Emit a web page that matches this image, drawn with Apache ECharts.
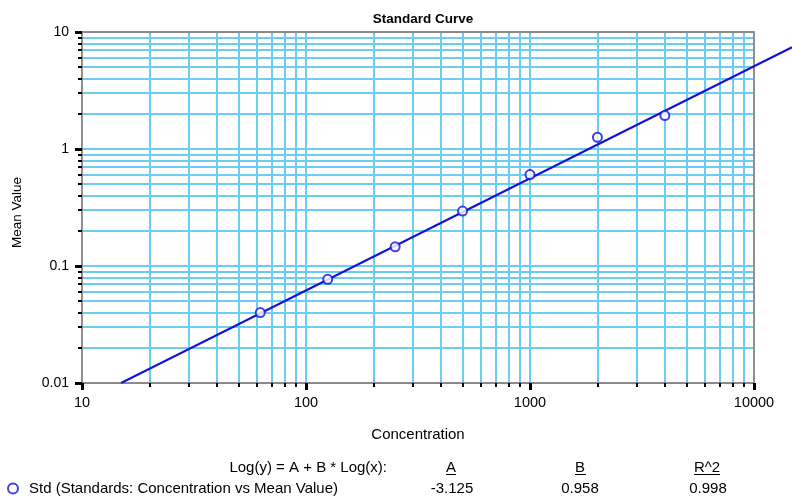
<!DOCTYPE html>
<html>
<head>
<meta charset="utf-8">
<script src="https://cdn.jsdelivr.net/npm/echarts@6/dist/echarts.min.js"></script>
<style>
  html, body { margin: 0; padding: 0; background: #fff; }
  #chart { width: 792px; height: 496px; }
</style>
</head>
<body>
<div id="chart"></div>
<script>
// Standards: concentration vs mean value
const concentration = [62.5, 125, 250, 500, 1000, 2000, 4000];
const meanValue = [0.040, 0.077, 0.146, 0.295, 0.605, 1.26, 1.93];

// Log-log fit: Log(y) = A + B * Log(x)
const fitA = -3.125;
const fitB = 0.958;
const fitR2 = 0.998;

// Axis ticks
const xMajorTicks = [10, 100, 1000, 10000];
const xTickLabels = ['10', '100', '1000', '10000'];
const xGridValues = [20, 30, 40, 50, 60, 70, 80, 90, 100,
  200, 300, 400, 500, 600, 700, 800, 900, 1000,
  2000, 3000, 4000, 5000, 6000, 7000, 8000, 9000];
const yMajorTicks = [0.01, 0.1, 1, 10];
const yTickLabels = ['0.01', '0.1', '1', '10'];
const yGridValues = [0.02, 0.03, 0.04, 0.05, 0.06, 0.07, 0.08, 0.09, 0.1,
  0.2, 0.3, 0.4, 0.5, 0.6, 0.7, 0.8, 0.9, 1,
  2, 3, 4, 5, 6, 7, 8, 9];

const FONT = 'Liberation Sans, Arial, sans-serif';
const GRID_COLOR = '#6ccdf2';
const FRAME_COLOR = '#8a8a8a';
const BLUE = '#1212d8';

// Plot box (pixels) and the x range covered when the fit line runs on to the right edge
const CHART_W = 792;
const PLOT = { left: 82, right: 38, top: 32, bottom: 113 };
const X_MIN = 10, X_MAX = 10000;
const plotW = CHART_W - PLOT.left - PLOT.right;
const decades = Math.log10(X_MAX / X_MIN);
const xFullMax = X_MIN * Math.pow(10, decades * (CHART_W - PLOT.left) / plotW);

// Fit line endpoints: from y = 0.01 out to the right edge of the chart
const yFloor = 0.01;
const xStart = Math.pow(10, (Math.log10(yFloor) - fitA) / fitB);
const fitLine = [xStart, xFullMax].map(x => [x, Math.pow(10, fitA + fitB * Math.log10(x))]);

const chart = echarts.init(document.getElementById('chart'), null, { renderer: 'canvas' });

const frameLine = { show: true, onZero: false, lineStyle: { color: FRAME_COLOR, width: 2, type: [1, 1] } };
const hiddenAxis = { show: false, axisLine: { show: false }, axisTick: { show: false }, axisLabel: { show: false }, splitLine: { show: false } };

chart.setOption({
  animation: false,
  backgroundColor: '#fff',
  title: {
    text: 'Standard Curve',
    left: 418,
    textAlign: 'center',
    top: 7,
    textStyle: { fontFamily: FONT, fontSize: 13.5, fontWeight: 'bold', color: '#000' }
  },
  legend: {
    left: 7,
    top: 481,
    padding: 0,
    itemWidth: 10,
    itemHeight: 10,
    data: [{ name: 'Std (Standards: Concentration vs Mean Value)', icon: 'emptyCircle' }],
    textStyle: { fontFamily: FONT, fontSize: 15, color: '#000', padding: [0, 0, 0, 6] }
  },
  grid: [
    { left: PLOT.left, right: PLOT.right, top: PLOT.top, bottom: PLOT.bottom },
    { left: PLOT.left, right: 0, top: PLOT.top, bottom: PLOT.bottom }
  ],
  xAxis: [
    {
      type: 'log', logBase: 10, min: X_MIN, max: X_MAX, position: 'bottom',
      axisLine: frameLine,
      axisTick: { show: true, customValues: xMajorTicks, length: 7, lineStyle: { color: '#000', width: 3 } },
      axisLabel: {
        customValues: xMajorTicks, margin: 12, fontFamily: FONT, fontSize: 14.5, color: '#000',
        formatter: v => xTickLabels[xMajorTicks.indexOf(v)]
      },
      splitLine: { show: false },
      name: 'Concentration', nameLocation: 'middle', nameGap: 44,
      nameTextStyle: { fontFamily: FONT, fontSize: 15, color: '#000' }
    },
    {
      type: 'log', logBase: 10, min: X_MIN, max: X_MAX, position: 'bottom',
      axisLine: { show: false },
      axisTick: { show: true, customValues: xGridValues, length: 4, lineStyle: { color: '#000', width: 2 } },
      axisLabel: { show: false },
      splitLine: { show: true, lineStyle: { color: GRID_COLOR, width: 2 } }
    },
    {
      type: 'log', logBase: 10, min: X_MIN, max: X_MAX, position: 'top',
      axisLine: frameLine, axisTick: { show: false }, axisLabel: { show: false }, splitLine: { show: false }
    },
    Object.assign({ type: 'log', logBase: 10, min: X_MIN, max: xFullMax, gridIndex: 1 }, hiddenAxis)
  ],
  yAxis: [
    {
      type: 'log', logBase: 10, min: 0.01, max: 10, position: 'left',
      axisLine: frameLine,
      axisTick: { show: true, customValues: yMajorTicks, length: 7, lineStyle: { color: '#000', width: 3 } },
      axisLabel: {
        customValues: yMajorTicks, margin: 13, fontFamily: FONT, fontSize: 14, color: '#000',
        formatter: v => yTickLabels[yMajorTicks.indexOf(v)]
      },
      splitLine: { show: false },
      name: 'Mean Value', nameLocation: 'middle', nameGap: 58,
      nameTextStyle: { fontFamily: FONT, fontSize: 13.5, color: '#000', padding: [0, 10, 0, 0] }
    },
    {
      type: 'log', logBase: 10, min: 0.01, max: 10, position: 'left',
      axisLine: { show: false },
      axisTick: { show: true, customValues: yGridValues, length: 4, lineStyle: { color: '#000', width: 2 } },
      axisLabel: { show: false },
      splitLine: { show: true, lineStyle: { color: GRID_COLOR, width: 2 } }
    },
    {
      type: 'log', logBase: 10, min: 0.01, max: 10, position: 'right',
      axisLine: frameLine, axisTick: { show: false }, axisLabel: { show: false }, splitLine: { show: false }
    },
    Object.assign({ type: 'log', logBase: 10, min: 0.01, max: 10, gridIndex: 1 }, hiddenAxis)
  ],
  series: [
    {
      name: 'Fit',
      type: 'line',
      xAxisIndex: 3, yAxisIndex: 3,
      data: fitLine,
      showSymbol: false,
      clip: false,
      silent: true,
      lineStyle: { color: BLUE, width: 2 },
      z: 3
    },
    {
      name: 'Std (Standards: Concentration vs Mean Value)',
      type: 'scatter',
      xAxisIndex: 0, yAxisIndex: 0,
      data: concentration.map((c, i) => [c, meanValue[i]]),
      symbol: 'emptyCircle',
      symbolSize: 9,
      itemStyle: { color: BLUE, borderColor: BLUE, borderWidth: 1.8 },
      z: 4
    }
  ],
  graphic: [
    { type: 'text', right: CHART_W - 387, top: 460,
      style: { text: 'Log(y) = A + B * Log(x):', font: '15px ' + FONT, fill: '#000' } },
    { type: 'text', x: 451, y: 460, style: { text: 'A', font: '15px ' + FONT, fill: '#000', align: 'center' } },
    { type: 'text', x: 580, y: 460, style: { text: 'B', font: '15px ' + FONT, fill: '#000', align: 'center' } },
    { type: 'text', x: 707, y: 460, style: { text: 'R^2', font: '15px ' + FONT, fill: '#000', align: 'center' } },
    { type: 'line', shape: { x1: 446, y1: 474.5, x2: 456, y2: 474.5 }, style: { stroke: '#000', lineWidth: 1 } },
    { type: 'line', shape: { x1: 575, y1: 474.5, x2: 586, y2: 474.5 }, style: { stroke: '#000', lineWidth: 1 } },
    { type: 'line', shape: { x1: 694, y1: 474.5, x2: 720, y2: 474.5 }, style: { stroke: '#000', lineWidth: 1 } },
    { type: 'text', x: 452, y: 481, style: { text: fitA.toFixed(3), font: '15px ' + FONT, fill: '#000', align: 'center' } },
    { type: 'text', x: 580, y: 481, style: { text: fitB.toFixed(3), font: '15px ' + FONT, fill: '#000', align: 'center' } },
    { type: 'text', x: 708, y: 481, style: { text: fitR2.toFixed(3), font: '15px ' + FONT, fill: '#000', align: 'center' } }
  ]
});
</script>
</body>
</html>
